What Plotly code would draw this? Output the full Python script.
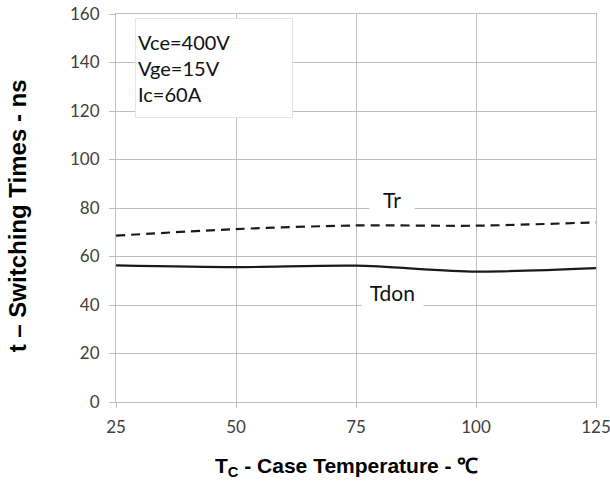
import plotly.graph_objects as go

temps = [25, 50, 75, 100, 125]
tr_ns = [68.6, 71.3, 72.8, 72.7, 74.1]
tdon_ns = [56.3, 55.6, 56.2, 53.8, 55.2]

x_ticks = [25, 50, 75, 100, 125]
y_ticks = [0, 20, 40, 60, 80, 100, 120, 140, 160]

tick_font = dict(family="Lato, Open Sans, sans-serif", size=17, color="#404040")
grid_c = "#BFBFBF"
label_font = dict(family="Lato, Open Sans, sans-serif", size=21, color="#111111")

fig = go.Figure()
fig.add_trace(go.Scatter(x=temps, y=tr_ns, mode="lines", name="Tr",
                         line=dict(color="#1a1a1a", width=2.2, dash="9px,6px", shape="spline", smoothing=0.8)))
fig.add_trace(go.Scatter(x=temps, y=tdon_ns, mode="lines", name="Tdon",
                         line=dict(color="#1a1a1a", width=2.2, shape="spline", smoothing=0.8)))

fig.update_layout(
    width=610, height=484,
    margin=dict(l=116, r=14, t=14, b=82),
    paper_bgcolor="white", plot_bgcolor="white",
    showlegend=False,
    xaxis=dict(range=[25, 125], tickvals=x_ticks, showgrid=True, gridcolor=grid_c, gridwidth=1,
               showline=True, linecolor=grid_c, mirror=True, zeroline=False, automargin=False,
               ticklabeloverflow="allow",
               ticks="outside", ticklen=5, tickcolor=grid_c, tickfont=tick_font, ticklabelstandoff=5),
    yaxis=dict(range=[0, 160], tickvals=y_ticks, showgrid=True, gridcolor=grid_c, gridwidth=1,
               showline=True, linecolor=grid_c, mirror=True, zeroline=False, automargin=False,
               ticklabeloverflow="allow",
               ticks="outside", ticklen=6, tickcolor=grid_c, tickfont=tick_font, ticklabelstandoff=6),
    annotations=[
        dict(xref="paper", yref="paper", x=0.0396, y=0.99, xanchor="left", yanchor="top",
             text="Vce=400V<br>Vge=15V<br>Ic=60A", align="left", valign="middle",
             showarrow=False, width=152, height=94, borderpad=2,
             bgcolor="white", bordercolor="#E6E6DE", borderwidth=1,
             font=dict(family="Lato, Open Sans, sans-serif", size=20, color="#111111")),
        dict(x=82.5, y=83.5, xref="x", yref="y", text="&nbsp;&nbsp;Tr&nbsp;&nbsp;", showarrow=False,
             bgcolor="white", borderpad=3, font=label_font),
        dict(x=82.7, y=45.0, xref="x", yref="y", text="&nbsp;Tdon&nbsp;", showarrow=False,
             bgcolor="white", borderpad=3, font=label_font),
        dict(xref="paper", yref="paper", x=-0.205, y=0.48, xanchor="center", yanchor="middle",
             text="<b>t – Switching Times - ns</b>", textangle=-90, showarrow=False,
             font=dict(family="Liberation Sans, Arial, sans-serif", size=24, color="#000000")),
        dict(xref="paper", yref="paper", x=0.48, y=-0.168, xanchor="center", yanchor="middle",
             text="<b>T<sub>C</sub> - Case Temperature - ℃</b>", showarrow=False,
             font=dict(family="Liberation Sans, Arial, sans-serif", size=21, color="#000000")),
    ],
)

fig.write_html("out.html")
